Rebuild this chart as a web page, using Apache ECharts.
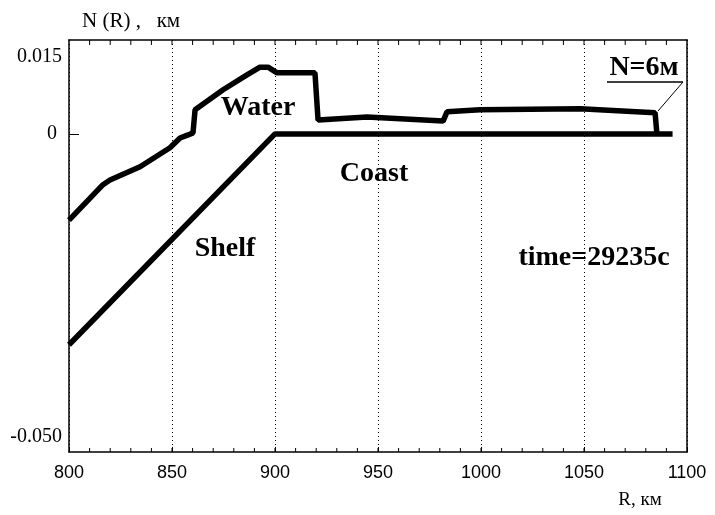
<!DOCTYPE html>
<html>
<head>
<meta charset="utf-8">
<script src="https://cdn.jsdelivr.net/npm/echarts@6/dist/echarts.min.js"></script>
<style>
body{margin:0;}
#c{width:715px;height:515px;}
</style>
</head>
<body>
<div id="c"></div>
<script>
// Distance R, km
var xTicks = [800, 850, 900, 950, 1000, 1050, 1100];
// Small tick marks along top and bottom edges (every 10 km)
var minorTickR = [810, 820, 830, 840, 850, 860, 870, 880, 890, 900, 910, 920, 930, 940, 950, 960, 970, 980, 990, 1000, 1010, 1020, 1030, 1040, 1050, 1060, 1070, 1080, 1090];
// Y tick positions (as drawn in the figure) and their printed labels
var yTickPos = [0.015, 0, -0.059];
var yTickLabels = ['0.015', '0', '-0.050'];

// Water surface N(R), km
var waterR = [800, 816.5, 819.9, 834.5, 849.0, 853.9, 857.8, 860.2, 861.2, 874.8, 886.4, 892.7, 896.6, 901.0, 919.4, 920.9, 944.7, 981.6, 983.5, 999.5, 1048.1, 1084.5, 1085.4];
var waterN = [-0.0168, -0.0099, -0.0090, -0.0064, -0.0027, -0.0008, -0.0002, 0.0002, 0.0047, 0.0086, 0.0115, 0.0130, 0.0130, 0.0119, 0.0119, 0.0027, 0.0033, 0.0025, 0.0043, 0.0047, 0.0049, 0.0041, 0];

// Bottom (shelf + coast)
var shelfR = [800, 900, 1093];
var shelfN = [-0.0411, 0, 0];

function pairs(a, b) { return a.map(function (v, i) { return [v, b[i]]; }); }

var serif = '"Liberation Serif", "DejaVu Serif", serif';
var sans = '"Liberation Sans", Arial, sans-serif';
var yMin = -0.062, yMax = 0.0183;

var y0 = {
  type: 'value', min: yMin, max: yMax, position: 'left',
  name: 'N (R) ,   км', nameLocation: 'end', nameGap: 8,
  nameTextStyle: {color: '#000', fontFamily: serif, fontSize: 21, align: 'left', padding: [0, 0, 0, 13]},
  axisLine: {show: true, onZero: false, lineStyle: {color: '#000', width: 1.5}},
  axisTick: {show: true, inside: true, length: 10, customValues: [0], lineStyle: {color: '#000'}},
  splitLine: {show: false},
  axisLabel: {
    color: '#000', fontFamily: serif, fontSize: 20, margin: 7,
    customValues: yTickPos,
    formatter: function (v) {
      var b = 0, d = 1e9;
      for (var i = 0; i < yTickPos.length; i++) {
        var dd = Math.abs(yTickPos[i] - v);
        if (dd < d) { d = dd; b = i; }
      }
      return b === 1 ? '{z|' + yTickLabels[b] + '}' : yTickLabels[b];
    },
    rich: {z: {padding: [0, 5, 0, 0]}}
  }
};

var option = {
  animation: false,
  backgroundColor: '#fff',
  grid: {left: 69, right: 28, top: 40, bottom: 63},
  xAxis: [{
    type: 'value', min: xTicks[0], max: xTicks[xTicks.length - 1], interval: 50, position: 'bottom',
    axisLine: {show: true, onZero: false, lineStyle: {color: '#000', width: 1.5}},
    axisTick: {show: true, inside: true, length: 5, lineStyle: {color: '#000'}},
    splitLine: {show: true, lineStyle: {color: '#000', type: [1, 3], width: 1}},
    axisLabel: {color: '#000', fontFamily: sans, fontSize: 18, margin: 12, formatter: function (v) { return String(v); }}
  }, {
    type: 'value', min: xTicks[0], max: xTicks[xTicks.length - 1], interval: 50, position: 'top',
    axisLine: {show: true, onZero: false, lineStyle: {color: '#000', width: 1.5}},
    axisTick: {show: false},
    splitLine: {show: false}, axisLabel: {show: false}
  }],
  yAxis: [y0, {
    type: 'value', min: yMin, max: yMax, position: 'right',
    axisLine: {show: true, lineStyle: {color: '#000', width: 1.5}},
    axisTick: {show: false}, axisLabel: {show: false}, splitLine: {show: false}
  }],
  series: [{
    name: 'Water', type: 'line', data: pairs(waterR, waterN), showSymbol: false,
    lineStyle: {color: '#000', width: 5.5}
  }, {
    name: 'Shelf', type: 'line', data: pairs(shelfR, shelfN), showSymbol: false,
    lineStyle: {color: '#000', width: 5.5}
  }, {
    name: 'ticks', type: 'custom', silent: true, clip: false,
    data: minorTickR.map(function (r) { return [r, 0]; }),
    encode: {x: 0, y: 1},
    renderItem: function (params, api) {
      var r = api.value(0);
      var pb = api.coord([r, yMin]);
      var pt = api.coord([r, yMax]);
      return {
        type: 'group',
        children: [
          {type: 'line', shape: {x1: pb[0], y1: pb[1], x2: pb[0], y2: pb[1] - 4}, style: {stroke: '#000', lineWidth: 1}},
          {type: 'line', shape: {x1: pt[0], y1: pt[1], x2: pt[0], y2: pt[1] + 5}, style: {stroke: '#000', lineWidth: 1}}
        ]
      };
    }
  }],
  graphic: [
    {type: 'text', style: {text: 'Water', x: 258, y: 108, align: 'center', verticalAlign: 'middle', font: 'bold 28px ' + serif, fill: '#000'}},
    {type: 'text', style: {text: 'Coast', x: 374, y: 174, align: 'center', verticalAlign: 'middle', font: 'bold 28px ' + serif, fill: '#000'}},
    {type: 'text', style: {text: 'Shelf', x: 225, y: 249, align: 'center', verticalAlign: 'middle', font: 'bold 28px ' + serif, fill: '#000'}},
    {type: 'text', style: {text: 'time=29235c', x: 594, y: 258, align: 'center', verticalAlign: 'middle', font: 'bold 28px ' + serif, fill: '#000'}},
    {type: 'text', style: {text: 'N=6м', x: 644, y: 68, align: 'center', verticalAlign: 'middle', font: 'bold 28px ' + serif, fill: '#000'}},
    {type: 'line', shape: {x1: 607, y1: 82, x2: 683, y2: 82}, style: {stroke: '#000', lineWidth: 1.5}},
    {type: 'line', shape: {x1: 683, y1: 82, x2: 658, y2: 111}, style: {stroke: '#000', lineWidth: 1}},
    {type: 'text', style: {text: 'R, км', x: 640, y: 500, align: 'center', verticalAlign: 'middle', font: '19px ' + serif, fill: '#000'}}
  ]
};

var chart = echarts.init(document.getElementById('c'), null, {renderer: 'canvas'});
chart.setOption(option);
</script>
</body>
</html>
